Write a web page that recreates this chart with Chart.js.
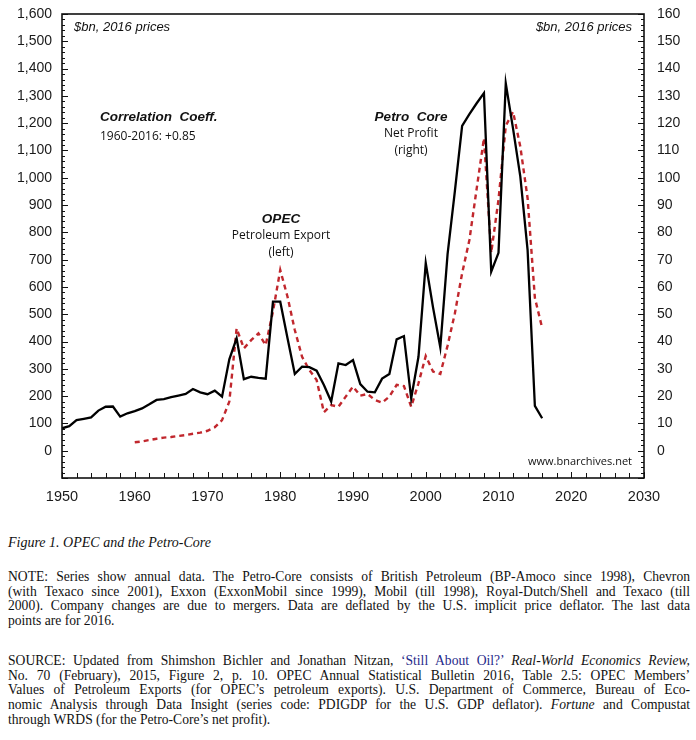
<!DOCTYPE html>
<html>
<head>
    <title>OPEC and the Petro-Core</title>
    <script src="https://cdn.jsdelivr.net/npm/chart.js"></script>
    <style>
        body { margin: 0; background: #fff; width: 696px; height: 740px; position: relative; overflow: hidden; }
        .chartBox { position: absolute; left: 0; top: 0; width: 696px; height: 510px; }
        .txt { position: absolute; left: 8px; width: 682px; font-family: "Liberation Serif", "Times New Roman", serif; color: #111; }
        .fig { top: 535px; font-size: 14px; line-height: 16px; font-style: italic; }
        .para { font-size: 13.6px; line-height: 14.7px; }
        .para div { text-align: justify; text-align-last: justify; white-space: nowrap; }
        .para div.last { text-align-last: left; }
        .blue { color: #1f2a8a; }
    </style>
</head>
<body>
    <div class="chartBox"><canvas id="myChart"></canvas></div>

    <div class="txt fig">Figure 1. OPEC and the Petro-Core</div>

    <div class="txt para" style="top: 570px;">
        <div>NOTE: Series show annual data. The Petro-Core consists of British Petroleum (BP-Amoco since 1998), Chevron</div>
        <div>(with Texaco since 2001), Exxon (ExxonMobil since 1999), Mobil (till 1998), Royal-Dutch/Shell and Texaco (till</div>
        <div>2000). Company changes are due to mergers. Data are deflated by the U.S. implicit price deflator. The last data</div>
        <div class="last">points are for 2016.</div>
    </div>

    <div class="txt para" style="top: 654px;">
        <div>SOURCE: Updated from Shimshon Bichler and Jonathan Nitzan, <span class="blue">‘Still About Oil?’</span> <i>Real-World Economics Review,</i></div>
        <div>No. 70 (February), 2015, Figure 2, p. 10. OPEC Annual Statistical Bulletin 2016, Table 2.5: OPEC Members’</div>
        <div>Values of Petroleum Exports (for OPEC’s petroleum exports). U.S. Department of Commerce, Bureau of Eco-</div>
        <div>nomic Analysis through Data Insight (series code: PDIGDP for the U.S. GDP deflator). <i>Fortune</i> and Compustat</div>
        <div class="last">through WRDS (for the Petro-Core’s net profit).</div>
    </div>

    <script>
        // Petro-Core net profit, $bn 2016 prices (right axis)
        const coreYears = [1950, 1951, 1952, 1953, 1954, 1955, 1956, 1957, 1958, 1959,
            1960, 1961, 1962, 1963, 1964, 1965, 1966, 1967, 1968, 1969,
            1970, 1971, 1972, 1973, 1974, 1975, 1976, 1977, 1978, 1979,
            1980, 1981, 1982, 1983, 1984, 1985, 1986, 1987, 1988, 1989,
            1990, 1991, 1992, 1993, 1994, 1995, 1996, 1997, 1998, 1999,
            2000, 2001, 2002, 2003, 2004, 2005, 2006, 2007, 2008, 2009,
            2010, 2011, 2012, 2013, 2014, 2015, 2016];
        const coreProfit = [8.2, 9.0, 11.2, 11.7, 12.2, 14.7, 16.1, 16.2, 12.5, 13.7,
            14.5, 15.5, 17.0, 18.6, 18.9, 19.6, 20.2, 20.8, 22.6, 21.4,
            20.7, 22.0, 19.8, 33.5, 41.2, 26.2, 27.1, 26.7, 26.4, 54.6,
            54.6, 41.2, 28.1, 30.8, 30.6, 29.3, 24.1, 18.0, 32.0, 31.4,
            33.2, 24.4, 21.6, 21.4, 26.4, 28.1, 40.8, 42.0, 19.2, 34.4,
            68.7, 52.5, 37.9, 72.0, 95.0, 119.0, 123.3, 127.3, 131.0, 65.6,
            72.5, 134.6, 118.0, 100.4, 73.5, 16.4, 11.9];

        // OPEC petroleum export, $bn 2016 prices (left axis)
        const opecYears = [1960, 1961, 1962, 1963, 1964, 1965, 1966, 1967, 1968, 1969,
            1970, 1971, 1972, 1973, 1974, 1975, 1976, 1977, 1978, 1979,
            1980, 1981, 1982, 1983, 1984, 1985, 1986, 1987, 1988, 1989,
            1990, 1991, 1992, 1993, 1994, 1995, 1996, 1997, 1998, 1999,
            2000, 2001, 2002, 2003, 2004, 2005, 2006, 2007, 2008, 2009,
            2010, 2011, 2012, 2013, 2014, 2015, 2016];
        const opecExport = [31, 34, 39, 44, 48, 50, 54, 57, 62, 66,
            73, 86, 112, 180, 448, 375, 405, 430, 387, 510,
            662, 564, 442, 344, 296, 259, 141, 167, 161, 198,
            235, 202, 208, 186, 176, 198, 241, 237, 161, 247,
            347, 290, 281, 385, 503, 650, 772, 960, 1145, 725,
            920, 1190, 1242, 1114, 925, 560, 450];

        const leftTicks = [0, 100, 200, 300, 400, 500, 600, 700, 800, 900, 1000, 1100, 1200, 1300, 1400, 1500, 1600];
        const rightTicks = [0, 10, 20, 30, 40, 50, 60, 70, 80, 90, 100, 110, 120, 130, 140, 150, 160];
        const xTicks = [1950, 1960, 1970, 1980, 1990, 2000, 2010, 2020, 2030];

        const tickFont = { family: 'Liberation Sans', size: 14 };
        const labelColor = '#1a1a1a';

        // marcos y marcas interiores de los ejes + textos
        const framePlugin = {
            id: 'framePlugin',
            afterDraw(chart) {
                const ctx = chart.ctx;
                const a = chart.chartArea;
                const sy = chart.scales.y, sx = chart.scales.x;
                ctx.save();
                ctx.strokeStyle = '#111';
                ctx.lineWidth = 1;
                ctx.beginPath();
                for (let v = -100; v <= 1600; v += 20) {
                    const y = Math.round(sy.getPixelForValue(v)) + 0.5;
                    const len = v % 100 === 0 ? 6 : 3;
                    ctx.moveTo(a.left, y); ctx.lineTo(a.left + len, y);
                    ctx.moveTo(a.right - len, y); ctx.lineTo(a.right, y);
                }
                for (let yr = 1950; yr <= 2030; yr += 2) {
                    const x = Math.round(sx.getPixelForValue(yr)) + 0.5;
                    const len = yr % 10 === 0 ? 6 : 5;
                    ctx.moveTo(x, a.bottom); ctx.lineTo(x, a.bottom - len);
                }
                ctx.stroke();
                ctx.lineWidth = 1.6;
                ctx.strokeRect(a.left, a.top, a.right - a.left, a.bottom - a.top);

                ctx.fillStyle = '#111';
                ctx.textBaseline = 'middle';
                ctx.font = 'italic 13px "Liberation Sans"';
                ctx.textAlign = 'left';
                ctx.fillText('$bn, 2016 prices', 74, 27);
                ctx.textAlign = 'right';
                ctx.fillText('$bn, 2016 prices', 632, 27);

                ctx.textAlign = 'left';
                ctx.font = 'bold italic 13.5px "Liberation Sans"';
                ctx.fillText('Correlation  Coeff.', 100, 117);
                ctx.font = '12px "Open Sans"';
                ctx.fillText('1960-2016: +0.85', 100, 137);

                ctx.textAlign = 'center';
                ctx.font = 'bold italic 13.5px "Liberation Sans"';
                ctx.fillText('OPEC', 281, 219);
                ctx.fillText('Petro  Core', 411, 117);
                ctx.font = '12px "Open Sans"';
                ctx.fillText('Petroleum Export', 281, 236);
                ctx.fillText('(left)', 281, 253);
                ctx.fillText('Net Profit', 411, 134);
                ctx.fillText('(right)', 411, 151);

                ctx.textAlign = 'right';
                ctx.font = '11px "Open Sans"';
                ctx.fillText('www.bnarchives.net', 632, 462);
                ctx.restore();
            }
        };

        const ctx = document.getElementById('myChart').getContext('2d');
        const myChart = new Chart(ctx, {
            type: 'line',
            data: {
                datasets: [{
                    label: 'Petro Core Net Profit (right)',
                    data: coreYears.map((yr, i) => ({ x: yr, y: coreProfit[i] })),
                    yAxisID: 'y1',
                    borderColor: '#000',
                    borderWidth: 2.3,
                    pointRadius: 0,
                    tension: 0
                }, {
                    label: 'OPEC Petroleum Export (left)',
                    data: opecYears.map((yr, i) => ({ x: yr, y: opecExport[i] })),
                    yAxisID: 'y',
                    borderColor: '#c1272d',
                    borderWidth: 2.4,
                    borderDash: [5, 4],
                    pointRadius: 0,
                    tension: 0
                }]
            },
            options: {
                responsive: true,
                maintainAspectRatio: false,
                animation: false,
                layout: { padding: { top: 14, left: 0, right: 0, bottom: 0 } },
                plugins: { legend: { display: false }, tooltip: { enabled: false } },
                scales: {
                    x: {
                        type: 'linear',
                        min: 1950, max: 2030,
                        afterBuildTicks: s => { s.ticks = xTicks.map(v => ({ value: v })); },
                        afterFit: s => { s.height = 32; },
                        grid: { display: false },
                        border: { display: false },
                        ticks: { font: { family: 'Liberation Sans', size: 14.5 }, color: labelColor, padding: 2, maxRotation: 0,
                            callback: v => String(v) }
                    },
                    y: {
                        position: 'left',
                        min: -100, max: 1600,
                        afterBuildTicks: s => { s.ticks = leftTicks.map(v => ({ value: v })); },
                        afterFit: s => { s.width = 62; },
                        grid: { display: false },
                        border: { display: false },
                        ticks: { font: tickFont, color: labelColor, padding: 2,
                            callback: v => v.toLocaleString('en-US') }
                    },
                    y1: {
                        position: 'right',
                        min: -10, max: 160,
                        afterBuildTicks: s => { s.ticks = rightTicks.map(v => ({ value: v })); },
                        afterFit: s => { s.width = 52; },
                        grid: { display: false },
                        border: { display: false },
                        ticks: { font: tickFont, color: labelColor, padding: 5 }
                    }
                }
            },
            plugins: [framePlugin]
        });
    </script>
</body>
</html>
